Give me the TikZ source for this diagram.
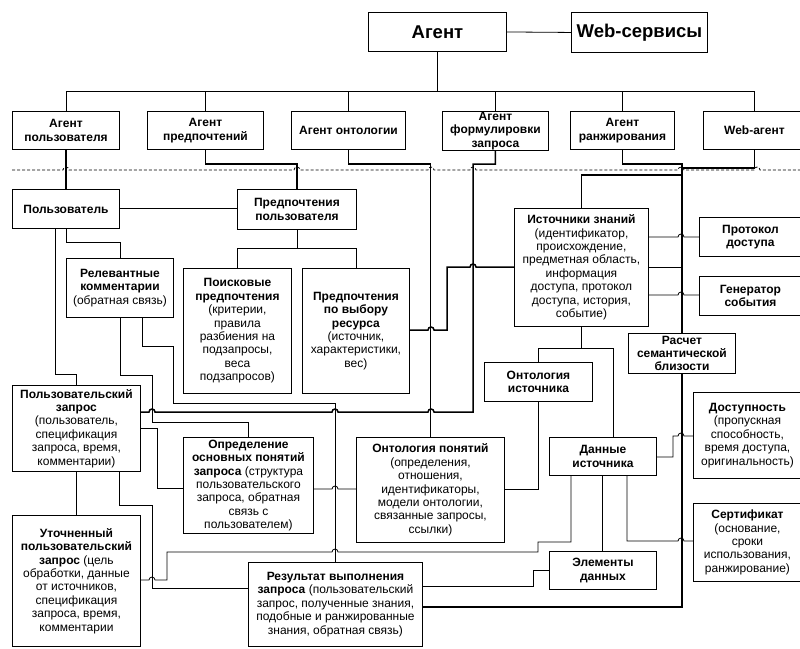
\documentclass[tikz,border=0pt]{standalone}
\usepackage{fontspec}
\setmainfont{Liberation Sans}

\tikzset{
  blk/.style={draw, line width=0.9pt, anchor=north west, align=center, inner sep=0pt,
    font=\fontsize{12}{13.4}\selectfont},
  head/.style={blk, font=\fontsize{18.5}{21}\selectfont\bfseries},
  wire/.style={line width=0.8pt},
  bus/.style={line width=1.5pt},
  sep/.style={line width=0.8pt, dash pattern=on 3pt off 2pt},
  hopr/.style args={#1/#2}{insert path={-- ({#1-3},#2) arc[start angle=180,end angle=360,radius=3]}},
  hopl/.style args={#1/#2}{insert path={-- ({#1+3},#2) arc[start angle=0,end angle=-180,radius=3]}}
}

\begin{document}
\begin{tikzpicture}[x=1pt,y=-1pt]
   \useasboundingbox (0,0) rectangle (800,648);
   \clip (0,0) rectangle (800,648);

   %top level
   \node[head, minimum width=138pt, minimum height=39pt] (agent) at (368,12) {Агент};
   \node[head, minimum width=136pt, minimum height=40pt] (websvc) at (571,12) {Web-сервисы};

   %agents
   \node[blk, minimum width=107pt, minimum height=38pt] (agUser) at (12,111) {\textbf{Агент}\\\textbf{пользователя}};
   \node[blk, minimum width=116pt, minimum height=38pt] (agPref) at (147,111) {\textbf{Агент}\\\textbf{предпочтений}};
   \node[blk, minimum width=114pt, minimum height=38pt] (agOnt) at (291,111) {\textbf{Агент онтологии}};
   \node[blk, minimum width=106pt, minimum height=39pt] (agForm) at (442,111) {\textbf{Агент}\\\textbf{формулировки}\\\textbf{запроса}};
   \node[blk, minimum width=104pt, minimum height=38pt] (agRank) at (570,111) {\textbf{Агент}\\\textbf{ранжирования}};
   \node[blk, minimum width=102pt, minimum height=38pt] (agWeb) at (703,111) {\textbf{Web-агент}};

   %data
   \node[blk, minimum width=107pt, minimum height=39pt] (user) at (12,189) {\textbf{Пользователь}};
   \node[blk, minimum width=119pt, minimum height=40pt] (userPref) at (237,189) {\textbf{Предпочтения}\\\textbf{пользователя}};
   \node[blk, minimum width=107pt, minimum height=59pt] (relev) at (66,258) {\textbf{Релевантные}\\\textbf{комментарии}\\(обратная связь)};
   \node[blk, minimum width=108pt, minimum height=125pt] (searchPref) at (183,268) {\textbf{Поисковые}\\\textbf{предпочтения}\\(критерии,\\правила\\разбиения на\\подзапросы,\\веса\\подзапросов)};
   \node[blk, minimum width=107pt, minimum height=125pt] (resPref) at (302,268) {\textbf{Предпочтения}\\\textbf{по выбору}\\\textbf{ресурса}\\(источник,\\характеристики,\\вес)};
   \node[blk, minimum width=134pt, minimum height=118pt] (knowSrc) at (514,208) {\textbf{Источники знаний}\\(идентификатор,\\происхождение,\\предметная область,\\информация\\доступа, протокол\\доступа, история,\\событие)};
   \node[blk, minimum width=102pt, minimum height=39pt] (protocol) at (699,217) {\textbf{Протокол}\\\textbf{доступа}};
   \node[blk, minimum width=102pt, minimum height=39pt] (generator) at (699,276) {\textbf{Генератор}\\\textbf{события}};
   \node[blk, minimum width=107pt, minimum height=40pt] (semCalc) at (628,333) {\textbf{Расчет}\\\textbf{семантической}\\\textbf{близости}};
   \node[blk, minimum width=108pt, minimum height=39pt] (srcOnt) at (484,362) {\textbf{Онтология}\\\textbf{источника}};
   \node[blk, minimum width=128pt, minimum height=86pt] (query) at (12,385) {\textbf{Пользовательский}\\\textbf{запрос}\\(пользователь,\\спецификация\\запроса, время,\\комментарии)};
   \node[blk, minimum width=130pt, minimum height=96pt] (conceptDef) at (183,437) {\textbf{Определение}\\\textbf{основных понятий}\\\textbf{запроса} (структура\\пользовательского\\запроса, обратная\\связь с\\пользователем)};
   \node[blk, minimum width=148pt, minimum height=105pt] (conceptOnt) at (356,437) {\textbf{Онтология понятий}\\(определения,\\отношения,\\идентификаторы,\\модели онтологии,\\связанные запросы,\\ссылки)};
   \node[blk, minimum width=107pt, minimum height=38pt] (srcData) at (549,437) {\textbf{Данные}\\\textbf{источника}};
   \node[blk, minimum width=108pt, minimum height=86pt] (avail) at (693,392) {\textbf{Доступность}\\(пропускная\\способность,\\время доступа,\\оригинальность)};
   \node[blk, minimum width=108pt, minimum height=78pt] (cert) at (693,503) {\textbf{Сертификат}\\(основание,\\сроки\\использования,\\ранжирование)};
   \node[blk, minimum width=128pt, minimum height=131pt] (refined) at (12,515) {\textbf{Уточненный}\\\textbf{пользовательский}\\\textbf{запрос} (цель\\обработки, данные\\от источников,\\спецификация\\запроса, время,\\комментарии};
   \node[blk, minimum width=107pt, minimum height=38pt] (dataElem) at (549,551) {\textbf{Элементы}\\\textbf{данных}};
   \node[blk, minimum width=174pt, minimum height=84pt] (result) at (248,562) {\textbf{Результат выполнения}\\\textbf{запроса} (пользовательский\\запрос, полученные знания,\\подобные и ранжированные\\знания, обратная связь)};

   %agent tree
   \draw[wire] (agent.east) -- (websvc.west);
   \draw[wire] (agent.south) -- (agent.south |- 0,91);
   \draw[wire] (agUser.north |- 0,91) -- (agWeb.north |- 0,91);
   \foreach \n in {agUser,agPref,agOnt,agForm,agRank,agWeb}
      \draw[wire] (\n.north) -- (\n.north |- 0,91);

   %dividing line
   \draw[sep] (12,170) [hopr=66/170] [hopr=297/170] [hopr=431/170] [hopr=473/170]
      [hopr=681/170] [hopr=757/170] -- (800,170);

   %agents to data
   \draw[bus] (agUser.south) -- (user.north);
   \draw[bus] (agPref.south) |- (userPref.north |- 0,164) -- (userPref.north);
   \draw[bus] (agOnt.south) |- (conceptOnt.north |- 0,164) -- (conceptOnt.north);
   \draw[bus] (agForm.south) |- (473,164) -- (473,412) [hopl=431/412] [hopl=335/412]
      [hopl=152/412] -- (query.east |- 0,412);
   \draw[bus] (agRank.south) |- (semCalc.north |- 0,164) -- (semCalc.north);
   \draw[bus] (agWeb.south) |- (681,168);
   \draw[bus] (knowSrc.north) |- (681,175);
   \draw[bus] (resPref.east |- 0,330) [hopr=431/330] -- (447,330) -- (447,267)
      [hopr=473/267] -- (knowSrc.west |- 0,267);
   \draw[bus] (semCalc.south) |- (result.east |- 0,607);

   %knowledge sources
   \draw[wire] (knowSrc.east |- 0,237) [hopr=681/237] -- (protocol.west |- 0,237);
   \draw[wire] (knowSrc.east |- 0,267) -- (681,267);
   \draw[wire] (knowSrc.east |- 0,295) [hopr=681/295] -- (generator.west |- 0,295);
   \draw[wire] (knowSrc.south) -- (knowSrc.south |- 0,348);
   \draw[wire] (srcOnt.north) |- (613,348) -- (srcData.north -| 613,0);
   \draw[wire] (srcOnt.south) |- (conceptOnt.east |- 0,489);
   \draw[wire] (srcData.east |- 0,457) -- (673,457) -- (673,436) [hopr=681/436]
      -- (avail.west |- 0,436);
   \draw[wire] (srcData.south -| 627,0) -- (627,541) [hopr=681/541] -- (cert.west |- 0,541);
   \draw[wire] (srcData.south -| 602,0) -- (dataElem.north -| 602,0);
   \draw[wire] (srcData.south -| 571,0) |- (538,542) -- (538,552) [hopl=335/552]
      -- (167,552) -- (167,580) [hopl=152/580] -- (refined.east |- 0,580);
   \draw[wire] (dataElem.west |- 0,570) -- (533,570) -- (533,586) -- (result.east |- 0,586);

   %user side
   \draw[wire] (user.east |- 0,208) -- (userPref.west |- 0,208);
   \draw[wire] (userPref.south) -- (userPref.south |- 0,248);
   \draw[wire] (searchPref.north) |- (resPref.north |- 0,248) -- (resPref.north);
   \draw[wire] (user.south) |- (relev.north |- 0,242) -- (relev.north);
   \draw[wire] (user.south -| 55,0) |- (query.north |- 0,374) -- (query.north);
   \draw[wire] (relev.south -| 120,0) |- (152,375) -- (152,422) -| (conceptDef.north);
   \draw[wire] (relev.south -| 142,0) |- (173,346) |- (result.north |- 0,403) -- (result.north);
   \draw[wire] (conceptDef.east |- 0,489) [hopr=335/489] -- (conceptOnt.west |- 0,489);
   \draw[wire] (query.east |- 0,428) -- (157,428) |- (conceptDef.west |- 0,488);
   \draw[wire] (query.south) -- (refined.north);
   \draw[wire] (query.south -| 119,0) |- (152,505) |- (result.west |- 0,588);
\end{tikzpicture}
\end{document}
